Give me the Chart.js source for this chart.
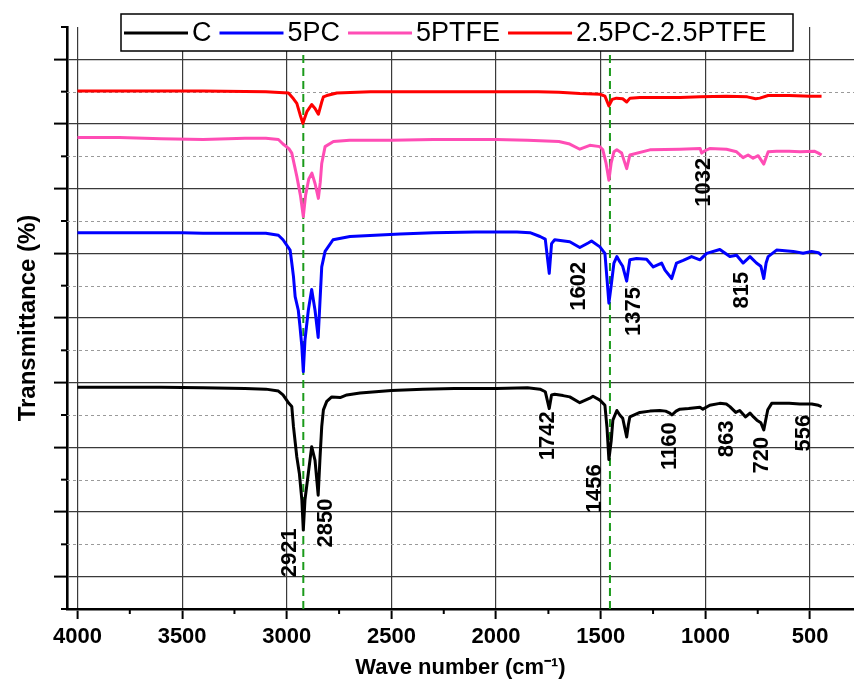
<!DOCTYPE html>
<html>
<head>
<meta charset="utf-8">
<script src="https://cdn.jsdelivr.net/npm/chart.js@4.4.1/dist/chart.umd.min.js"></script>
<style>
  html, body { margin: 0; padding: 0; background: #fff; overflow: hidden; }
  #wrap { width: 854px; height: 679px; position: relative; }
</style>
</head>
<body>
<div id="wrap"><canvas id="ftir"></canvas></div>
<script>
// series labels and colours
const seriesLabels = ["C", "5PC", "5PTFE", "2.5PC-2.5PTFE"];
const seriesColors = ["#000000", "#0000ff", "#ff4db5", "#ff0000"];

// C (black)
const wnC = [4000, 3800, 3600, 3400, 3200, 3100, 3040, 3018, 2990, 2976, 2968, 2952, 2940, 2928, 2921, 2913, 2897, 2881, 2865, 2850, 2841, 2833, 2825, 2809, 2785, 2745, 2713, 2650, 2500, 2350, 2200, 2000, 1850, 1790, 1765, 1746, 1735, 1720, 1680, 1648, 1600, 1552, 1537, 1504, 1480, 1470, 1461, 1450, 1442, 1423, 1409, 1395, 1376, 1368, 1361, 1313, 1265, 1218, 1190, 1170, 1160, 1140, 1122, 1080, 1026, 1012, 979, 931, 900, 883, 855, 836, 808, 787, 770, 754, 735, 721, 712, 702, 683, 645, 600, 549, 492, 460, 445];
const tC = [3.43, 3.43, 3.43, 3.42, 3.41, 3.40, 3.37, 3.31, 3.18, 3.13, 2.82, 2.35, 2.10, 1.69, 1.22, 1.69, 2.10, 2.51, 2.30, 1.76, 2.35, 2.82, 3.08, 3.21, 3.28, 3.27, 3.31, 3.34, 3.38, 3.40, 3.41, 3.41, 3.42, 3.40, 3.36, 3.10, 3.31, 3.32, 3.30, 3.28, 3.19, 3.26, 3.29, 3.23, 3.15, 2.80, 2.31, 2.60, 2.92, 3.07, 3.00, 2.95, 2.66, 2.85, 2.97, 3.04, 3.06, 3.07, 3.06, 3.03, 3.00, 3.06, 3.09, 3.10, 3.12, 3.09, 3.15, 3.18, 3.17, 3.13, 3.04, 3.07, 2.97, 3.03, 2.97, 2.92, 2.88, 2.77, 2.92, 3.08, 3.18, 3.18, 3.18, 3.17, 3.17, 3.15, 3.13];

// 5PC (blue)
const wn5PC = [4000, 3600, 3500, 3400, 3100, 3040, 3018, 2984, 2976, 2968, 2960, 2945, 2937, 2928, 2921, 2913, 2897, 2881, 2865, 2850, 2841, 2833, 2817, 2779, 2698, 2459, 2300, 2100, 1900, 1838, 1790, 1765, 1746, 1735, 1720, 1648, 1600, 1560, 1544, 1504, 1480, 1470, 1461, 1450, 1437, 1423, 1409, 1395, 1376, 1368, 1361, 1329, 1281, 1249, 1209, 1193, 1161, 1138, 1106, 1066, 1026, 994, 931, 883, 851, 820, 787, 756, 735, 721, 710, 700, 660, 580, 533, 493, 460, 445];
const t5PC = [5.82, 5.82, 5.82, 5.81, 5.81, 5.78, 5.71, 5.55, 5.35, 5.14, 4.83, 4.62, 4.37, 4.06, 3.67, 4.16, 4.62, 4.94, 4.62, 4.20, 4.78, 5.29, 5.53, 5.71, 5.76, 5.80, 5.82, 5.83, 5.83, 5.82, 5.76, 5.72, 5.19, 5.65, 5.71, 5.68, 5.59, 5.66, 5.69, 5.60, 5.50, 5.10, 4.73, 5.00, 5.35, 5.45, 5.37, 5.30, 5.07, 5.25, 5.40, 5.42, 5.41, 5.29, 5.35, 5.24, 5.11, 5.35, 5.39, 5.45, 5.40, 5.50, 5.56, 5.45, 5.47, 5.35, 5.45, 5.35, 5.30, 5.11, 5.35, 5.45, 5.55, 5.53, 5.50, 5.53, 5.51, 5.47];

// 5PTFE (pink)
const wn5PTFE = [4000, 3800, 3600, 3400, 3200, 3100, 3040, 3018, 2990, 2976, 2952, 2935, 2921, 2910, 2895, 2880, 2865, 2849, 2840, 2833, 2817, 2777, 2700, 2500, 2300, 2000, 1850, 1790, 1700, 1648, 1600, 1552, 1504, 1490, 1475, 1461, 1450, 1437, 1423, 1400, 1376, 1361, 1265, 1122, 1025, 1018, 1000, 980, 899, 851, 820, 796, 772, 748, 721, 700, 660, 600, 548, 480, 460, 445];
const t5PTFE = [7.29, 7.29, 7.27, 7.26, 7.28, 7.28, 7.26, 7.19, 7.12, 7.05, 6.69, 6.40, 6.07, 6.40, 6.65, 6.74, 6.58, 6.35, 6.60, 6.89, 7.15, 7.23, 7.25, 7.25, 7.26, 7.26, 7.25, 7.24, 7.23, 7.19, 7.11, 7.17, 7.15, 7.10, 6.90, 6.63, 6.90, 7.07, 7.10, 7.05, 6.81, 7.02, 7.10, 7.11, 7.12, 7.05, 7.09, 7.12, 7.11, 7.07, 6.98, 7.02, 6.97, 7.01, 6.88, 7.07, 7.08, 7.08, 7.07, 7.08, 7.05, 7.02];

// 2.5PC-2.5PTFE (red)
const wnMix = [4000, 3700, 3400, 3100, 2992, 2968, 2952, 2936, 2923, 2904, 2881, 2865, 2849, 2833, 2825, 2809, 2761, 2600, 2300, 2000, 1800, 1700, 1600, 1504, 1480, 1461, 1445, 1425, 1395, 1376, 1360, 1313, 1218, 1120, 1025, 900, 800, 760, 740, 700, 600, 500, 445];
const tMix = [8.01, 8.01, 8.01, 8.00, 7.98, 7.89, 7.82, 7.64, 7.51, 7.69, 7.80, 7.74, 7.65, 7.84, 7.92, 7.94, 7.98, 8.00, 8.00, 8.00, 8.00, 7.99, 7.97, 7.96, 7.93, 7.78, 7.88, 7.90, 7.89, 7.84, 7.90, 7.91, 7.91, 7.91, 7.92, 7.93, 7.92, 7.89, 7.90, 7.94, 7.94, 7.93, 7.93];

// axes
const xTicks = [500, 1000, 1500, 2000, 2500, 3000, 3500, 4000];
const xMinorTicks = [750, 1250, 1750, 2250, 2750, 3250, 3750];
const yMajorTicks = [0.5, 1.5, 2.5, 3.5, 4.5, 5.5, 6.5, 7.5, 8.5];
const yMinorTicks = [0, 1, 2, 3, 4, 5, 6, 7, 8, 9];

// peak labels
const peakLabels = ["2921", "2850", "1742", "1456", "1160", "863", "720", "556", "1602", "1375", "815", "1032"];
const peakLabelX = [2985, 2812, 1754, 1526, 1170, 899, 731, 529, 1604, 1341, 826, 1007];
const peakLabelY = [0.87, 1.33, 2.68, 1.86, 2.52, 2.63, 2.38, 2.72, 4.99, 4.60, 4.93, 6.60];

// green dashed marker lines
const markerLines = [2921, 1456];
const markerTop = 8.6;

const FONT = '"Liberation Sans", Arial, sans-serif';

function toPoints(xs, ys) {
  return xs.map((x, i) => ({ x: x, y: ys[i] }));
}

const spectra = [
  toPoints(wnC, tC),
  toPoints(wn5PC, t5PC),
  toPoints(wn5PTFE, t5PTFE),
  toPoints(wnMix, tMix),
];

const datasets = spectra.map((pts, i) => ({
  label: seriesLabels[i],
  data: pts,
  borderColor: seriesColors[i],
  backgroundColor: seriesColors[i],
  borderWidth: 3,
  borderJoinStyle: "round",
  pointRadius: 0,
  tension: 0,
}));

markerLines.forEach((wn) => {
  datasets.push({
    label: "",
    data: [{ x: wn, y: 0 }, { x: wn, y: markerTop }],
    borderColor: "#1b9a1b",
    borderWidth: 2,
    borderDash: [8, 5],
    pointRadius: 0,
  });
});

// dotted minor grid + short minor ticks
const minorGrid = {
  id: "minorGrid",
  beforeDatasetsDraw(chart) {
    const { ctx, chartArea, scales } = chart;
    ctx.save();
    ctx.strokeStyle = "#9a9a9a";
    ctx.lineWidth = 1;
    ctx.setLineDash([3, 3]);
    yMinorTicks.forEach((v) => {
      if (v <= 0 || v >= 9) return;
      const py = Math.round(scales.y.getPixelForValue(v)) + 0.5;
      ctx.beginPath();
      ctx.moveTo(chartArea.left, py);
      ctx.lineTo(chartArea.right, py);
      ctx.stroke();
    });
    ctx.setLineDash([]);
    ctx.strokeStyle = "#000";
    ctx.lineWidth = 2;
    yMinorTicks.forEach((v) => {
      const py = scales.y.getPixelForValue(v);
      ctx.beginPath();
      ctx.moveTo(chartArea.left - 6, py);
      ctx.lineTo(chartArea.left, py);
      ctx.stroke();
    });
    xMinorTicks.forEach((v) => {
      const px = scales.x.getPixelForValue(v);
      ctx.beginPath();
      ctx.moveTo(px, chartArea.bottom);
      ctx.lineTo(px, chartArea.bottom + 5);
      ctx.stroke();
    });
    ctx.restore();
  },
};

// rotated peak labels
const peakText = {
  id: "peakText",
  afterDatasetsDraw(chart) {
    const { ctx, scales } = chart;
    ctx.save();
    ctx.fillStyle = "#000";
    ctx.font = "bold 22px " + FONT;
    ctx.textAlign = "center";
    ctx.textBaseline = "middle";
    peakLabels.forEach((txt, i) => {
      ctx.save();
      ctx.translate(scales.x.getPixelForValue(peakLabelX[i]), scales.y.getPixelForValue(peakLabelY[i]));
      ctx.rotate(-Math.PI / 2);
      ctx.fillText(txt, 0, 0);
      ctx.restore();
    });
    ctx.restore();
  },
};

// boxed legend on top of the plot
const boxLegend = {
  id: "boxLegend",
  afterDraw(chart) {
    const ctx = chart.ctx;
    const boxX = 121, boxY = 14, boxW = 672, boxH = 37;
    ctx.save();
    ctx.fillStyle = "#fff";
    ctx.fillRect(boxX, boxY, boxW, boxH);
    ctx.strokeStyle = "#000";
    ctx.lineWidth = 1.5;
    ctx.strokeRect(boxX, boxY, boxW, boxH);
    ctx.font = "27px " + FONT;
    ctx.textBaseline = "middle";
    ctx.textAlign = "left";
    const midY = boxY + boxH / 2 + 0.5;
    let x = 124;
    for (let i = 0; i < seriesLabels.length; i++) {
      ctx.strokeStyle = seriesColors[i];
      ctx.lineWidth = 3;
      ctx.beginPath();
      ctx.moveTo(x, midY);
      ctx.lineTo(x + 64, midY);
      ctx.stroke();
      x += 68;
      ctx.fillStyle = "#000";
      ctx.fillText(seriesLabels[i], x, midY + 1);
      x += ctx.measureText(seriesLabels[i]).width + 8;
    }
    ctx.restore();
  },
};

new Chart(document.getElementById("ftir"), {
  type: "line",
  data: { datasets: datasets },
  plugins: [minorGrid, peakText, boxLegend],
  options: {
    responsive: true,
    maintainAspectRatio: false,
    animation: false,
    layout: { padding: { top: 27, left: 0, right: 0, bottom: 0 } },
    plugins: {
      legend: { display: false },
      tooltip: { enabled: false },
    },
    scales: {
      x: {
        type: "linear",
        reverse: true,
        min: 290,
        max: 4050,
        afterBuildTicks: (s) => { s.ticks = xTicks.map((v) => ({ value: v })); },
        afterFit: (s) => { s.height = 70; },
        grid: { color: "#3a3a3a", lineWidth: 1.2, tickLength: 10, tickColor: "#000", tickWidth: 2 },
        border: { color: "#000", width: 2.6 },
        ticks: {
          color: "#000",
          padding: 5,
          maxRotation: 0,
          font: { family: FONT, size: 22, weight: "bold" },
          callback: (v) => String(v),
        },
        title: {
          display: true,
          text: "Wave number (cm\u207B\u00B9)",
          color: "#000",
          font: { family: FONT, size: 22, weight: "bold", lineHeight: 1 },
          padding: { top: 0, bottom: 0 },
        },
      },
      y: {
        type: "linear",
        min: 0,
        max: 9,
        afterBuildTicks: (s) => { s.ticks = yMajorTicks.map((v) => ({ value: v })); },
        afterFit: (s) => { s.width = 67; },
        grid: { color: "#3a3a3a", lineWidth: 1.2, tickLength: 13, tickColor: "#000", tickWidth: 2 },
        border: { color: "#000", width: 2.6 },
        ticks: { display: false },
        title: {
          display: true,
          text: "Transmittance (%)",
          color: "#000",
          font: { family: FONT, size: 24, weight: "bold" },
          padding: { top: 14, bottom: 0 },
        },
      },
    },
  },
});
</script>
</body>
</html>
